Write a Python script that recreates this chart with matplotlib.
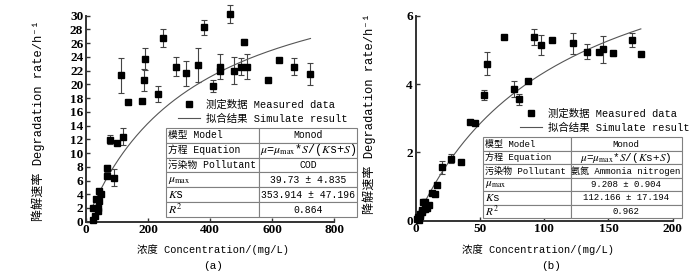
import numpy as np
import matplotlib.pyplot as plt
from matplotlib.lines import Line2D
from matplotlib.table import Table

plt.rcParams['font.family'] = ['Liberation Mono', 'DejaVu Sans Mono', 'Noto Sans CJK SC']
plt.rcParams['mathtext.fontset'] = 'stix'

# (a) COD
cod_x = [21, 23.5, 30, 32, 39.6, 39.6, 41.7, 42.8, 48, 67, 67, 76, 89, 99.5, 114, 119,
         136, 181, 187, 191, 231, 249, 291, 322, 360, 379, 410, 433, 433, 464, 478,
         499, 511, 519, 587, 622, 671, 724]
cod_y = [2.0, 0.3, 0.8, 3.3, 2.0, 1.5, 3.0, 4.45, 4.1, 7.8, 6.7, 11.95, 6.4, 11.4, 21.3, 12.4,
         17.5, 17.6, 20.6, 23.75, 18.6, 26.7, 22.6, 21.6, 22.8, 28.3, 19.8, 22.6, 22.0, 30.3, 22.0,
         22.6, 26.2, 22.6, 20.6, 23.6, 22.6, 21.5]
cod_err = [0, 0, 0, 0, 0, 0, 0, 0, 0, 0.5, 0, 0.65, 1.26, 0, 2.5, 1.2,
           0, 0, 1.6, 1.6, 1.1, 1.3, 1.4, 1.8, 2.5, 1.1, 0.9, 1.8, 0, 1.3, 2.0,
           1.3, 0.4, 1.8, 0, 0, 1.3, 1.6]
cod_mumax, cod_ks = 39.73, 353.914

# (b) ammonia nitrogen
nh_x = [1, 1.5, 2.5, 3, 3.5, 4.5, 5, 6, 7, 7.5, 9, 10.3, 12.9, 15, 16.3, 20.7, 27.7, 35.4,
        41.9, 45.8, 53, 55.6, 69, 76.8, 80.7, 87, 91.8, 97.8, 106, 122.6, 133, 142.3,
        145.7, 153.7, 168.2, 175.2]
nh_y = [0.05, 0.12, 0.03, 0.15, 0.2, 0.25, 0.3, 0.55, 0.55, 0.35, 0.38, 0.46, 0.8, 0.78, 1.04,
        1.56, 1.82, 1.72, 2.89, 2.86, 3.67, 4.59, 5.39, 3.85, 3.56, 4.09, 5.37, 5.14, 5.29,
        5.19, 4.95, 4.95, 5.02, 4.9, 5.29, 4.88]
nh_err = [0, 0, 0, 0, 0, 0, 0, 0, 0, 0, 0, 0, 0, 0, 0, 0.18, 0.12, 0,
          0, 0, 0.15, 0.34, 0, 0.23, 0.16, 0, 0.24, 0.3, 0.06, 0.3, 0.22, 0,
          0.39, 0.07, 0.2, 0]
nh_mumax, nh_ks = 9.208, 112.166

table_a = [['模型 Model', 'Monod'],
           ['方程 Equation', r'$\mu$=$\mu_{\rm max}$*$S$/($K$s+$S$)'],
           ['污染物 Pollutant', 'COD'],
           [r'$\mu_{\rm max}$', '39.73 ± 4.835'],
           [r'$K$s', '353.914 ± 47.196'],
           [r'$R^2$', '0.864']]
table_b = [['模型 Model', 'Monod'],
           ['方程 Equation', r'$\mu$=$\mu_{\rm max}$*$S$/($K$s+$S$)'],
           ['污染物 Pollutant', '氨氮 Ammonia nitrogen'],
           [r'$\mu_{\rm max}$', '9.208 ± 0.904'],
           [r'$K$s', '112.166 ± 17.194'],
           [r'$R^2$', '0.962']]


def draw_table(ax, rows, bbox, split, fs):
    tb = Table(ax, bbox=bbox)
    n = len(rows)
    for r, (left, right) in enumerate(rows):
        c = tb.add_cell(r, 0, split, 1.0 / n, text=left, loc='left')
        c2 = tb.add_cell(r, 1, 1 - split, 1.0 / n, text=right, loc='center')
        for cell in (c, c2):
            cell.set_edgecolor('#808080')
            cell.set_linewidth(0.8)
            cell.PAD = 0.02
    tb.auto_set_font_size(False)
    tb.set_fontsize(fs)
    for (r, col), cell in tb.get_celld().items():
        if '$' in cell.get_text().get_text():
            cell.get_text().set_fontsize(fs + 1.5)
    tb.set_clip_on(False)
    tb.set_zorder(5)
    ax.add_table(tb)


def panel(ax, x, y, err, mumax, ks, xmax, ymax, xticks, yticks, rows, tbox, split, tfs, leg_anchor):
    x = np.array(x)
    y = np.array(y)
    err = np.array(err)
    m = err > 0
    ax.errorbar(x[m], y[m], yerr=err[m], fmt='none', ecolor='#444444', elinewidth=0.8,
                capsize=2, capthick=0.8, zorder=2, clip_on=False)
    ax.plot(x, y, 's', color='black', markersize=4, zorder=3, clip_on=False)
    s = np.linspace(x.min(), x.max(), 200)
    ax.plot(s, mumax * s / (ks + s), color='#555555', lw=0.8, zorder=2)
    ax.set_xlim(0, xmax)
    ax.set_ylim(0, ymax)
    ax.set_xticks(xticks)
    ax.set_yticks(yticks)
    for sp in ['top', 'right']:
        ax.spines[sp].set_visible(False)
    for sp in ['left', 'bottom']:
        ax.spines[sp].set_linewidth(1.4)
        ax.spines[sp].set_color('#333333')
    ax.tick_params(direction='in', length=3, width=1, color='#333333', pad=2,
                   labelsize=9.5, labelfontfamily='Liberation Serif')
    for lb in ax.get_xticklabels() + ax.get_yticklabels():
        lb.set_fontweight('bold')
    ax.set_ylabel('降解速率 Degradation rate/h⁻¹', fontsize=8.7)
    ax.set_xlabel('浓度 Concentration/(mg/L)', fontsize=7.5)
    handles = [Line2D([], [], ls='none', marker='s', color='black', markersize=4),
               Line2D([], [], color='#555555', lw=0.8)]
    ax.legend(handles, ['测定数据 Measured data', '拟合结果 Simulate result'],
              loc='center left', bbox_to_anchor=leg_anchor, frameon=False, fontsize=7.5,
              handlelength=2.1, handletextpad=0.6, labelspacing=0.4, borderpad=0,
              borderaxespad=0)
    draw_table(ax, rows, tbox, split, tfs)


fig = plt.figure(figsize=(7, 2.71), dpi=100)
ax1 = fig.add_axes([0.1229, 0.1819, 0.3543, 0.7601])
ax2 = fig.add_axes([0.5939, 0.1856, 0.3671, 0.7565])

panel(ax1, cod_x, cod_y, cod_err, cod_mumax, cod_ks, 800, 30, [0, 200, 400, 600, 800],
      range(0, 31, 2), table_a, [0.323, 0.023, 0.77, 0.432], 0.487, 7, (0.371, 0.535))
panel(ax2, nh_x, nh_y, nh_err, nh_mumax, nh_ks, 200, 6, [0, 50, 100, 150, 200],
      [0, 2, 4, 6], table_b, [0.262, 0.012, 0.773, 0.395], 0.441, 6.5, (0.406, 0.489))

ax1.yaxis.set_label_coords(-0.165, 0.49)
ax2.yaxis.set_label_coords(-0.154, 0.52)
ax1.xaxis.set_label_coords(0.512, -0.108)
ax2.xaxis.set_label_coords(0.476, -0.115)

fig.text(213 / 700, 1 - 266 / 271, '(a)', ha='center', va='center', fontsize=8)
fig.text(551 / 700, 1 - 266 / 271, '(b)', ha='center', va='center', fontsize=8)

fig.savefig('out.png', dpi=100)
